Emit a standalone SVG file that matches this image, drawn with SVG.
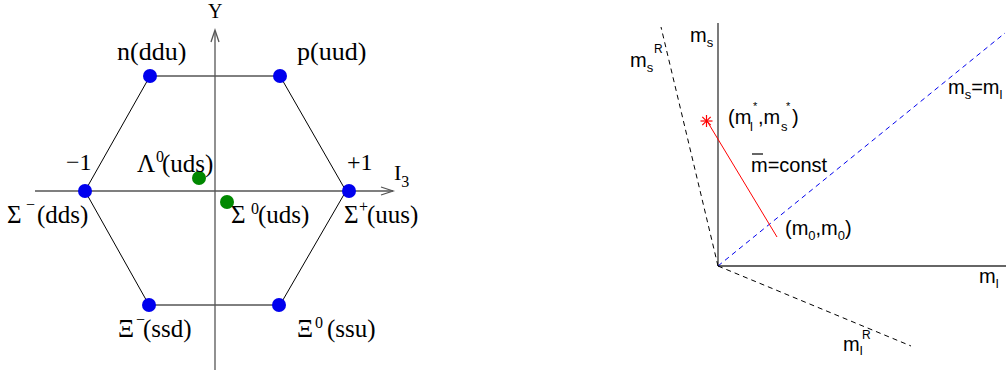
<svg xmlns="http://www.w3.org/2000/svg" width="1006" height="374" viewBox="0 0 1006 374">
<style>
.serif{font-family:"Liberation Serif","Times New Roman",serif;fill:#000}
.sans{font-family:"Liberation Sans",Arial,sans-serif;fill:#000}
.axis{stroke:#555;stroke-width:1.3;fill:none}
.hex{stroke:#000;stroke-width:1;fill:none}
.dotb{fill:#0000ee}
.dotg{fill:#008800}
.dash{stroke:#000;stroke-width:1;stroke-dasharray:5 4;fill:none}
.bdash{stroke:#0000ee;stroke-width:1;stroke-dasharray:5 4;fill:none}
.ax2{stroke:#333;stroke-width:1.3;fill:none}
</style>
<rect width="1006" height="374" fill="#fff"/>
<g id="connectors">
  <polyline class="hex" points="150,76 280,76 346,191 280,305 149,305 85,191 150,76"/>
  <line class="axis" x1="215" y1="31" x2="215" y2="370"/>
  <polyline class="axis" points="211,42 215,30 219,42"/>
  <line class="axis" x1="35" y1="191" x2="393" y2="191"/>
  <polyline class="axis" points="381,187 393,191 381,195"/>
  <line class="ax2" x1="718" y1="23" x2="718" y2="266"/>
  <line class="ax2" x1="718" y1="266" x2="1006" y2="266"/>
  <line class="bdash" x1="718" y1="266" x2="1005" y2="33"/>
  <line class="dash" x1="718" y1="266" x2="661" y2="27"/>
  <line class="dash" x1="718" y1="266" x2="911" y2="346"/>
  <line stroke="#ff0000" stroke-width="1" x1="707" y1="121" x2="777" y2="237"/>
</g>
<g id="axis-Y"><text class="serif" x="208" y="18" font-size="20">Y</text></g>
<g id="axis-I3"><text class="serif" x="394" y="180" font-size="22">I<tspan font-size="16" dy="7">3</tspan></text></g>
<g id="tick-minus1"><text class="serif" x="66" y="170" font-size="24">−1</text></g>
<g id="tick-plus1"><text class="serif" x="347" y="170" font-size="24">+1</text></g>
<g id="node-n">
  <circle class="dotb" cx="150" cy="76" r="7"/>
  <text class="serif" x="117" y="60" font-size="26">n(ddu)</text>
</g>
<g id="node-p">
  <circle class="dotb" cx="280" cy="76" r="7"/>
  <text class="serif" x="297" y="60" font-size="26">p(uud)</text>
</g>
<g id="node-sigma-minus">
  <circle class="dotb" cx="85" cy="191" r="7"/>
  <text class="serif" x="7" y="223" font-size="25">Σ<tspan x="26" y="210" font-size="16">−</tspan><tspan x="37" y="223">(dds)</tspan></text>
</g>
<g id="node-sigma-plus">
  <circle class="dotb" cx="349" cy="191" r="7"/>
  <text class="serif" x="344" y="223" font-size="25">Σ<tspan x="359" y="212" font-size="16">+</tspan><tspan x="367" y="223">(uus)</tspan></text>
</g>
<g id="node-lambda0">
  <circle class="dotg" cx="199" cy="178" r="7"/>
  <text class="serif" x="137" y="172" font-size="25">Λ<tspan x="156" y="162" font-size="16">0</tspan><tspan x="162" y="172">(uds)</tspan></text>
</g>
<g id="node-sigma0">
  <circle class="dotg" cx="227" cy="202" r="7"/>
  <text class="serif" x="231" y="223" font-size="25">Σ<tspan x="251" y="214" font-size="16">0</tspan><tspan x="258" y="223">(uds)</tspan></text>
</g>
<g id="node-xi-minus">
  <circle class="dotb" cx="149" cy="305" r="7"/>
  <text class="serif" x="118" y="337" font-size="25">Ξ<tspan x="136" y="325" font-size="16">−</tspan><tspan x="143" y="337">(ssd)</tspan></text>
</g>
<g id="node-xi0">
  <circle class="dotb" cx="279" cy="305" r="7"/>
  <text class="serif" x="297" y="337" font-size="25">Ξ<tspan x="315" y="328" font-size="16">0</tspan><tspan x="327" y="337">(ssu)</tspan></text>
</g>
<g id="label-ms"><text class="sans" x="690" y="42" font-size="20">m<tspan font-size="13" dy="5">s</tspan></text></g>
<g id="label-msR"><text class="sans" x="630" y="67" font-size="20">m<tspan font-size="13" dy="5">s</tspan><tspan x="654" y="53" font-size="12">R</tspan></text></g>
<g id="label-ms-eq-ml"><text class="sans" x="948" y="94" font-size="20">m<tspan font-size="13" dy="5">s</tspan><tspan dy="-5">=m</tspan><tspan font-size="13" dy="5">l</tspan></text></g>
<g id="point-star">
  <g stroke="#ff0000" stroke-width="1.2">
    <line x1="700.5" y1="121" x2="712.5" y2="121"/>
    <line x1="706.5" y1="115" x2="706.5" y2="127"/>
    <line x1="702.3" y1="116.8" x2="710.7" y2="125.2"/>
    <line x1="702.3" y1="125.2" x2="710.7" y2="116.8"/>
  </g>
  <text class="sans" x="728" y="124" font-size="20">(m<tspan x="750" y="131" font-size="13">l</tspan><tspan x="753" y="110" font-size="11">*</tspan><tspan x="758" y="124">,m</tspan><tspan x="781" y="131" font-size="13">s</tspan><tspan x="786" y="110" font-size="11">*</tspan><tspan x="792" y="124">)</tspan></text>
</g>
<g id="label-mbar">
  <line x1="752" y1="154" x2="763" y2="154" stroke="#000" stroke-width="1.2"/>
  <text class="sans" x="751" y="172" font-size="20">m=const</text>
</g>
<g id="point-m0"><text class="sans" x="785" y="235" font-size="20">(m<tspan font-size="13" dy="5">0</tspan><tspan dy="-5">,m</tspan><tspan font-size="13" dy="5">0</tspan><tspan dy="-5">)</tspan></text></g>
<g id="label-ml"><text class="sans" x="979" y="283" font-size="20">m<tspan font-size="13" dy="5">l</tspan></text></g>
<g id="label-mlR"><text class="sans" x="843" y="351" font-size="20">m<tspan font-size="13" dy="4">l</tspan><tspan x="862" y="339" font-size="12">R</tspan></text></g>
</svg>
